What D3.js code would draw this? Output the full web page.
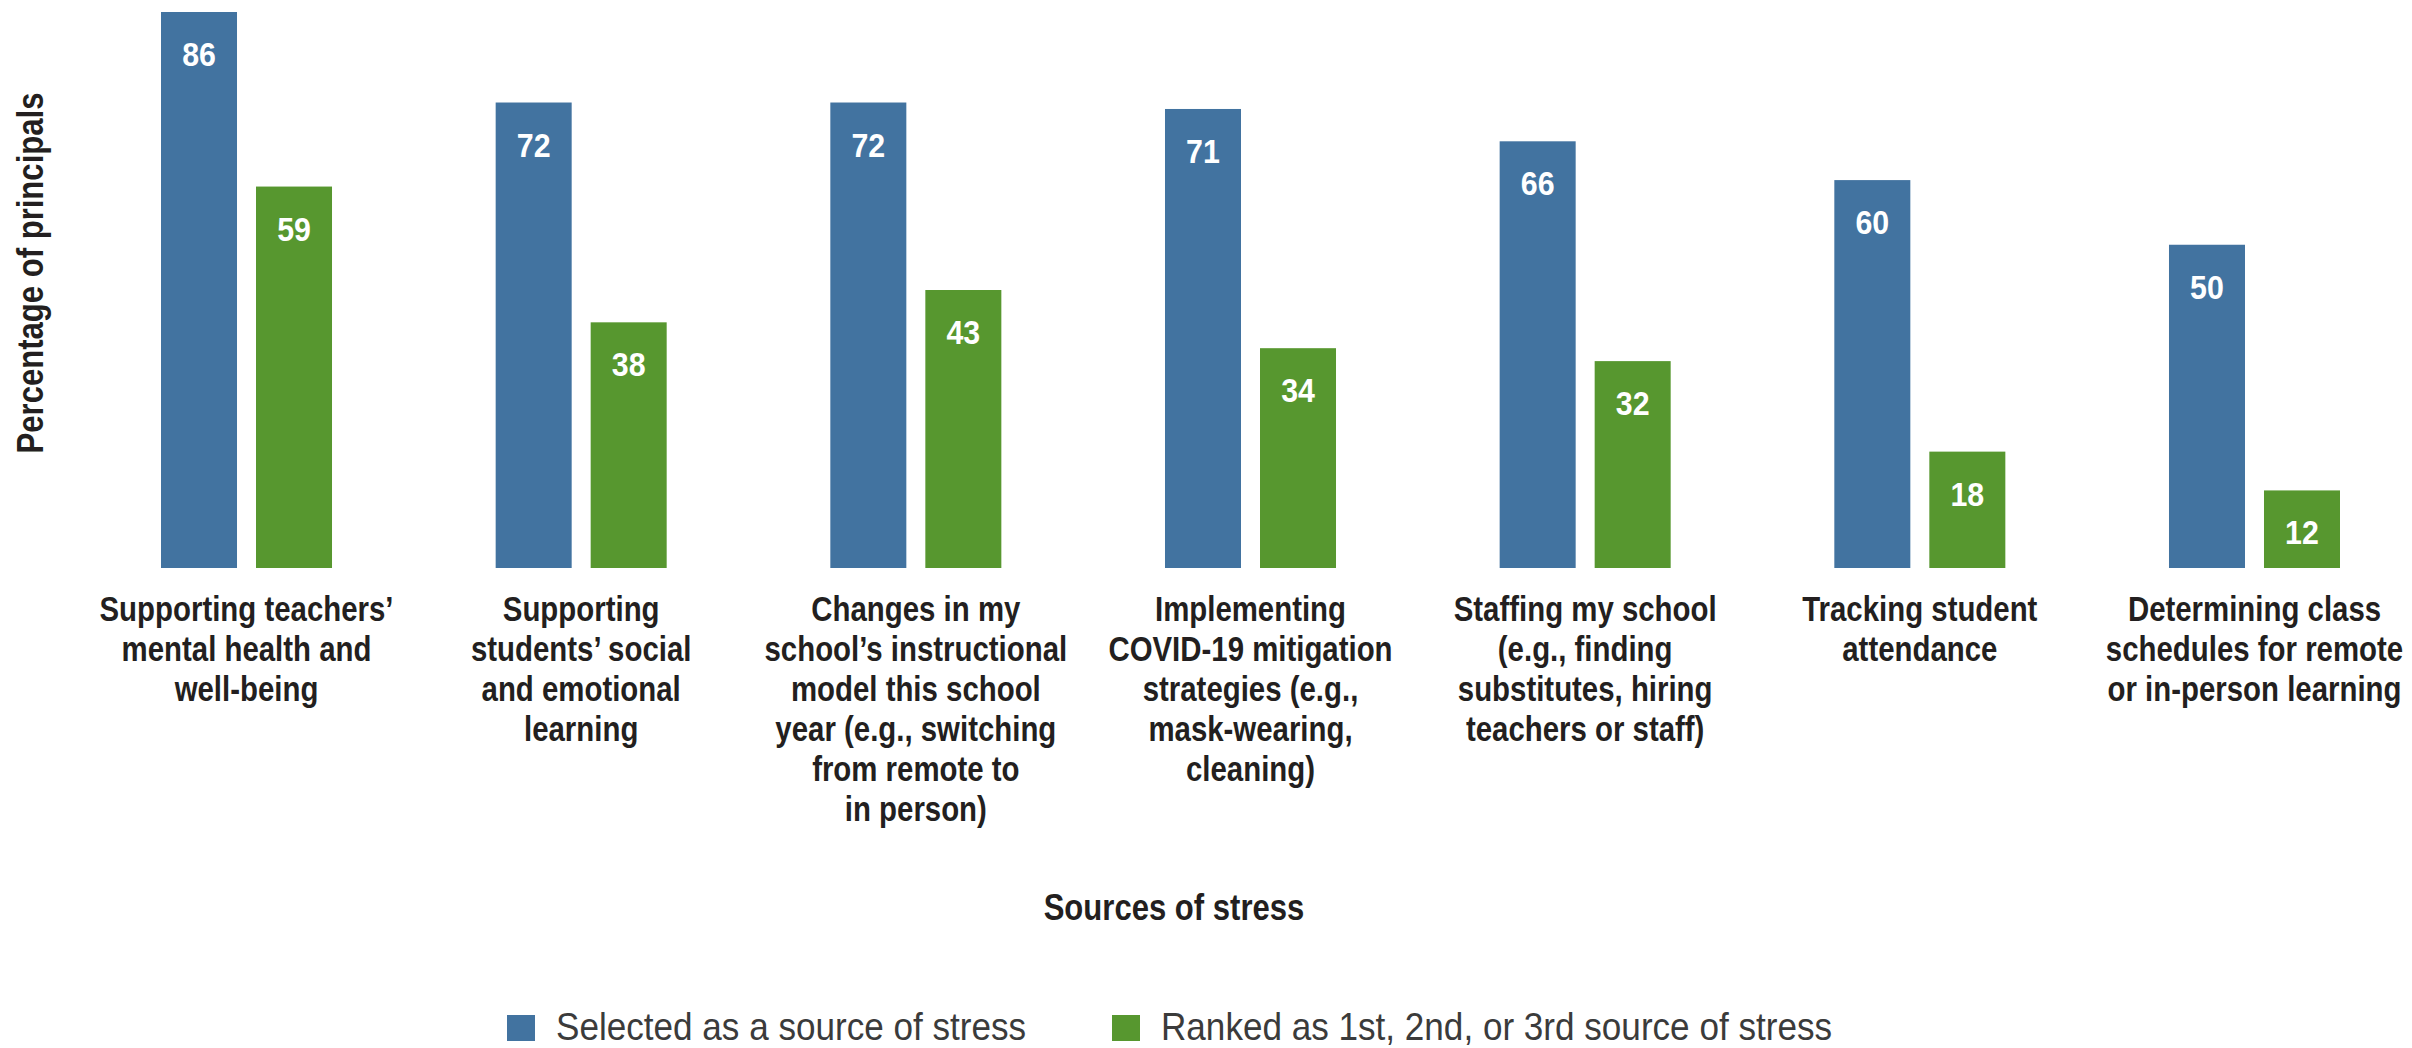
<!DOCTYPE html>
<html>
<head>
<meta charset="utf-8">
<script src="https://cdn.jsdelivr.net/npm/d3@7"></script>
<style>
  body { margin: 0; background: #fff; }
  svg { display: block; }
</style>
</head>
<body>
<div id="chart"></div>
<script>
// grouped bar chart: sources of stress for principals

// categories (one per group)
var categories = ["teachers", "students", "model", "covid", "staffing", "attendance", "schedules"];

// category labels as they are broken into lines in the picture
var categoryLines = [
  ["Supporting teachers\u2019", "mental health and", "well-being"],
  ["Supporting", "students\u2019 social", "and emotional", "learning"],
  ["Changes in my", "school\u2019s instructional", "model this school", "year (e.g., switching", "from remote to", "in person)"],
  ["Implementing", "COVID-19 mitigation", "strategies (e.g.,", "mask-wearing,", "cleaning)"],
  ["Staffing my school", "(e.g., finding", "substitutes, hiring", "teachers or staff)"],
  ["Tracking student", "attendance"],
  ["Determining class", "schedules for remote", "or in-person learning"]
];

// series
var seriesKeys = ["selected", "ranked"];
var seriesNames = ["Selected as a source of stress", "Ranked as 1st, 2nd, or 3rd source of stress"];
var selectedValues = [86, 72, 72, 71, 66, 60, 50];
var rankedValues = [59, 38, 43, 34, 32, 18, 12];

var colors = { selected: "#4273a0", ranked: "#57972f" };

// svg size
var svgWidth = 2412;
var svgHeight = 1048;

// no narrow font installed, so squeeze Liberation Sans sideways
var font = "'Liberation Sans', Arial, sans-serif";
var squeeze = "scale(0.84,1)";

// build rows for binding
var rows = categories.map(function(c, i) {
  return { key: c, lines: categoryLines[i], selected: selectedValues[i], ranked: rankedValues[i] };
});

var svg = d3.select("#chart")
  .append("svg")
  .attr("width", svgWidth)
  .attr("height", svgHeight);

// scales
var x0 = d3.scaleBand()
  .domain(categories)
  .range([161, 2340])
  .paddingInner(0.489)
  .paddingOuter(0);

var x1 = d3.scaleBand()
  .domain(seriesKeys)
  .range([0, x0.bandwidth()])
  .paddingInner(0.2);

var baseline = 568;
var y = d3.scaleLinear()
  .domain([0, d3.max(selectedValues)])
  .range([baseline, 12]);

// bars
var groups = svg.selectAll(".group")
  .data(rows)
  .enter()
  .append("g")
  .attr("class", "group")
  .attr("transform", d => `translate(${x0(d.key)},0)`);

groups.selectAll("rect")
  .data(d => seriesKeys.map(k => ({ key: k, value: d[k] })))
  .enter()
  .append("rect")
  .attr("x", d => x1(d.key))
  .attr("y", d => y(d.value))
  .attr("width", x1.bandwidth())
  .attr("height", d => baseline - y(d.value))
  .attr("fill", d => colors[d.key]);

// value labels inside the bars
groups.selectAll(".value")
  .data(d => seriesKeys.map(k => ({ key: k, value: d[k] })))
  .enter()
  .append("text")
  .attr("class", "value")
  .attr("transform", d => `translate(${x1(d.key) + x1.bandwidth() / 2}, ${y(d.value) + 54}) scale(0.92,1)`)
  .attr("text-anchor", "middle")
  .attr("fill", "#fff")
  .attr("font-family", font)
  .attr("font-weight", "bold")
  .attr("font-size", "33px")
  .text(d => d.value);

// x axis with no line, labels wrapped into lines
var xAxis = svg.append("g")
  .attr("transform", `translate(0, ${baseline})`)
  .call(d3.axisBottom(x0).tickSize(0).tickFormat(""));

xAxis.select(".domain").remove();

xAxis.selectAll(".tick text")
  .attr("y", 53)
  .attr("dy", null)
  .attr("transform", squeeze)
  .attr("fill", "#231f20")
  .attr("font-family", font)
  .attr("font-weight", "bold")
  .attr("font-size", "35px")
  .each(function(d, i) {
    var t = d3.select(this);
    categoryLines[i].forEach(function(line, j) {
      t.append("tspan")
        .attr("x", 0)
        .attr("y", 53 + j * 40)
        .text(line);
    });
  });

// y axis title
svg.append("text")
  .attr("transform", "translate(43, 273) rotate(-90) " + squeeze)
  .attr("text-anchor", "middle")
  .attr("fill", "#231f20")
  .attr("font-family", font)
  .attr("font-weight", "bold")
  .attr("font-size", "37px")
  .text("Percentage of principals");

// x axis title
svg.append("text")
  .attr("transform", "translate(1174, 920) " + squeeze)
  .attr("text-anchor", "middle")
  .attr("fill", "#231f20")
  .attr("font-family", font)
  .attr("font-weight", "bold")
  .attr("font-size", "37px")
  .text("Sources of stress");

// legend
var legendX = [507, 1112];
var legend = svg.selectAll(".legend")
  .data(seriesKeys)
  .enter()
  .append("g")
  .attr("class", "legend")
  .attr("transform", (d, i) => `translate(${legendX[i]}, 1015)`);

legend.append("rect")
  .attr("width", 28)
  .attr("height", 26)
  .attr("fill", d => colors[d]);

legend.append("text")
  .attr("transform", "translate(49, 25) scale(0.9,1)")
  .attr("fill", "#3b3b3b")
  .attr("font-family", font)
  .attr("font-size", "39px")
  .text((d, i) => seriesNames[i]);
</script>
</body>
</html>
